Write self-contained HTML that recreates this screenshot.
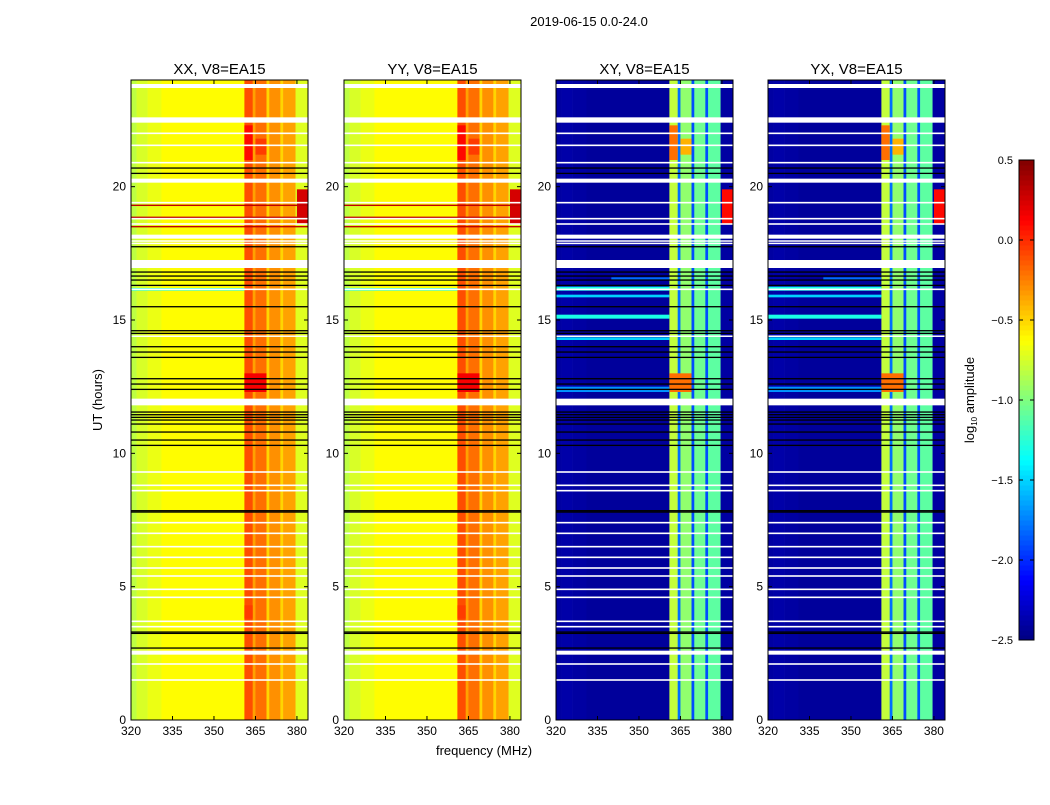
<!DOCTYPE html>
<html><head><meta charset="utf-8"><style>
body{margin:0;background:#fff;font-family:"Liberation Sans","DejaVu Sans",sans-serif}
svg text{font-family:"Liberation Sans","DejaVu Sans",sans-serif}
</style></head><body>
<svg id="fig" width="1050" height="800" xmlns="http://www.w3.org/2000/svg">
<rect width="1050" height="800" fill="#fff"/>
<text x="589" y="26" font-size="13" text-anchor="middle">2019-06-15 0.0-24.0</text>
<text x="102" y="400" font-size="13" text-anchor="middle" transform="rotate(-90 102 400)">UT (hours)</text>
<text x="484" y="755" font-size="13" text-anchor="middle">frequency (MHz)</text>
<text x="974" y="400" font-size="13" text-anchor="middle" transform="rotate(-90 974 400)">log<tspan font-size="8" dy="3">10</tspan><tspan dy="-3"> amplitude</tspan></text>
<g id="panels"></g>
<g id="cbar"></g>
</svg>
<script>
// ---- data ----
const panelTitles = ["XX, V8=EA15","YY, V8=EA15","XY, V8=EA15","YX, V8=EA15"];
const xTicks = [320,335,350,365,380];
const yTicks = [0,5,10,15,20];
const cbTicks = [-2.5,-2.0,-1.5,-1.0,-0.5,0.0,0.5];
// frequency band edges (MHz) and log10 amplitude per band
const bandEdges = [320,322,326,331,361,364,365,369,370,374,375,379.5,384];
const parallelLevels = [-0.82,-0.74,-0.68,-0.62,-0.1,-0.35,-0.2,-0.5,-0.3,-0.5,-0.35,-0.72];
const crossLevels = [-2.4,-2.38,-2.4,-2.42,-0.8,-1.8,-0.95,-1.9,-1.05,-1.9,-1.1,-2.4];
// patches: [f0,f1,t0,t1,level]
const parallelPatches = [[361,364,21.0,22.3,0.1],[365,369,21.2,21.8,-0.05],[361,369,12.3,13.0,0.15],[380,384,18.6,19.9,0.25],[361,364,3.8,4.3,-0.05],[320,361,16.1,16.2,-1.3]];
const crossPatches = [[361,364,21.0,22.3,-0.2],[365,369,21.2,21.8,-0.4],[361,369,12.3,13.0,-0.2],[380,384,18.6,19.9,0.1],[320,361,16.1,16.25,-1.3],[320,361,15.85,15.95,-1.5],[320,361,15.05,15.2,-1.3],[320,361,14.25,14.35,-1.5],[320,361,12.3,12.5,-1.7],[340,361,16.5,16.6,-1.8]];
// flagged rows (white) [t0,t1]
const whiteRows = [[23.7,23.85],[22.4,22.6],[21.97,22.03],[21.52,21.58],[20.87,20.93],[20.15,20.3],[19.37,19.43],[18.77,18.83],[18.57,18.63],[18.05,18.2],[17.95,17.99],[17.86,17.9],[16.95,17.25],[16.12,16.18],[14.37,14.42],[11.8,12.05],[9.27,9.33],[8.77,8.83],[8.57,8.63],[7.37,7.43],[6.97,7.03],[6.47,6.53],[6.07,6.13],[5.67,5.73],[5.37,5.43],[4.87,4.93],[4.57,4.63],[3.67,3.73],[3.47,3.53],[2.45,2.6],[2.07,2.13],[1.47,1.53]];
// black lines (hours)
const blackRows = [20.7,20.5,17.75,16.8,16.65,16.5,16.3,15.5,14.6,14.5,14.0,13.8,13.6,12.8,12.6,12.4,11.55,11.45,11.35,11.25,11.1,10.8,10.5,10.3,7.85,7.8,3.3,3.25,2.7];
// red lines in parallel hands (hours)
const redRows = [19.3,18.85,18.5];

// ---- layout ----
const panelX = [131,344,556,768], PW = 177, PT = 80, PB = 720;
const fMin = 320, fMax = 384, tMax = 24;
const NS = "http://www.w3.org/2000/svg";
function mk(tag, attrs, parent){const e=document.createElementNS(NS,tag);for(const k in attrs)e.setAttribute(k,attrs[k]);parent.appendChild(e);return e;}
function jet(v){
  let x=(v+2.5)/3; x=Math.max(0,Math.min(1,x));
  const r=Math.min(Math.max(Math.min(4*x-1.5,-4*x+4.5),0),1);
  const g=Math.min(Math.max(Math.min(4*x-0.5,-4*x+3.5),0),1);
  const b=Math.min(Math.max(Math.min(4*x+0.5,-4*x+2.5),0),1);
  return `rgb(${Math.round(r*255)},${Math.round(g*255)},${Math.round(b*255)})`;
}
const panels=document.getElementById('panels');
panelTitles.forEach((title,p)=>{
  const x0=panelX[p];
  const xs=f=>x0+(f-fMin)/(fMax-fMin)*PW;
  const ys=t=>PB-t/tMax*(PB-PT);
  const g=mk('g',{},panels);
  
  
  const levels=p<2?parallelLevels:crossLevels;
  for(let i=0;i<levels.length;i++){
    const r=mk('rect',{x:xs(bandEdges[i]),y:PT,width:xs(bandEdges[i+1])-xs(bandEdges[i])+0.3,height:PB-PT,fill:jet(levels[i])},g);
    
    
  }
  const patches=p<2?parallelPatches:crossPatches;
  patches.forEach((pt,i)=>{
    const r=mk('rect',{x:xs(pt[0]),y:ys(pt[3]),width:xs(pt[1])-xs(pt[0]),height:ys(pt[2])-ys(pt[3]),fill:jet(pt[4])},g);
    
    
  });
  if(p<2) redRows.forEach(t=>{
    const l=mk('rect',{x:x0,y:ys(t)-0.7,width:PW,height:1.4,fill:'#c00000'},g);
    
    
  });
  whiteRows.forEach(w=>{
    const r=mk('rect',{x:x0,y:ys(w[1]),width:PW,height:Math.max(1.5,ys(w[0])-ys(w[1])),fill:'#fff'},g);
    
    
  });
  blackRows.forEach(t=>{
    const l=mk('rect',{x:x0,y:ys(t)-0.6,width:PW,height:1.3,fill:'#000'},g);
    
    
  });
  const fr=mk('rect',{x:x0,y:PT,width:PW,height:PB-PT,fill:'none',stroke:'#000','stroke-width':1},g);
  
  
  const tt=mk('text',{x:x0+PW/2,y:74,'font-size':15,'text-anchor':'middle'},g);
  tt.textContent=title;
  
  
  xTicks.forEach(f=>{
    const x=xs(f);
    mk('line',{x1:x,x2:x,y1:PB,y2:PB-4,stroke:'#000'},g);
    mk('line',{x1:x,x2:x,y1:PT,y2:PT+4,stroke:'#000'},g);
    const t=mk('text',{x:x,y:PB+15,'font-size':12,'text-anchor':'middle'},g);
    t.textContent=f;
    
    
  });
  yTicks.forEach(v=>{
    const y=ys(v);
    mk('line',{x1:x0,x2:x0+4,y1:y,y2:y,stroke:'#000'},g);
    mk('line',{x1:x0+PW,x2:x0+PW-4,y1:y,y2:y,stroke:'#000'},g);
    const t=mk('text',{x:x0-5,y:y+4,'font-size':12,'text-anchor':'end'},g);
    t.textContent=v;
    
    
  });
});
// colorbar
const cb=document.getElementById('cbar');


const CX=1019,CW=15,CT=160,CB=640;
for(let i=0;i<96;i++){
  const v=-2.5+3*(i+0.5)/96;
  mk('rect',{x:CX,y:CB-(i+1)*(CB-CT)/96,width:CW,height:(CB-CT)/96+0.5,fill:jet(v)},cb);
}
mk('rect',{x:CX,y:CT,width:CW,height:CB-CT,fill:'none',stroke:'#000'},cb);
cbTicks.forEach(v=>{
  const y=CB-(v+2.5)/3*(CB-CT);
  mk('line',{x1:CX,x2:CX+4,y1:y,y2:y,stroke:'#000'},cb);
  mk('line',{x1:CX+CW,x2:CX+CW-4,y1:y,y2:y,stroke:'#000'},cb);
  const t=mk('text',{x:1013,y:y+4,'font-size':11,'text-anchor':'end'},cb);
  t.textContent=(v<0?'\u2212':'')+Math.abs(v).toFixed(1);
  
  
});
</script>
</body></html>
